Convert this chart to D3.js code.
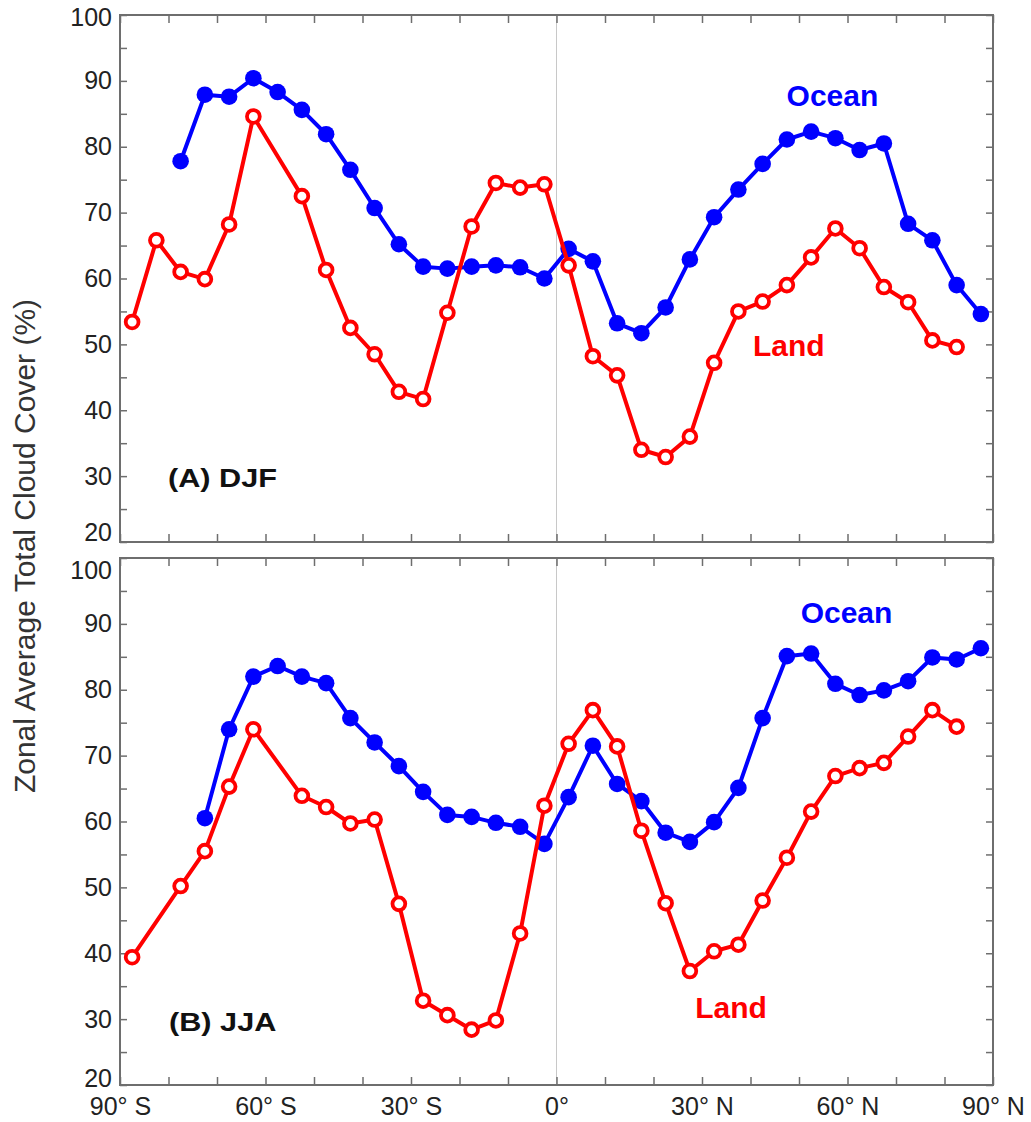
<!DOCTYPE html>
<html>
<head>
<meta charset="utf-8">
<script src="https://cdn.jsdelivr.net/npm/d3@7"></script>
<style>
  body { margin: 0; background: #fff; }
  svg { display: block; font-family: "Liberation Sans", Arial, Helvetica, sans-serif; }
</style>
</head>
<body>
<div id="container"></div>
<script>
// latitude band centres (degrees, negative = south)
const latitudes = [-87.5, -82.5, -77.5, -72.5, -67.5, -62.5, -57.5, -52.5, -47.5, -42.5, -37.5, -32.5,
    -27.5, -22.5, -17.5, -12.5, -7.5, -2.5, 2.5, 7.5, 12.5, 17.5, 22.5, 27.5,
    32.5, 37.5, 42.5, 47.5, 52.5, 57.5, 62.5, 67.5, 72.5, 77.5, 82.5, 87.5];

// (A) DJF
const djfOcean = [null, null, 77.8, 87.9, 87.6, 90.4, 88.3, 85.6, 81.9, 76.5, 70.7, 65.2,
    61.8, 61.5, 61.8, 62.0, 61.7, 60.0, 64.5, 62.6, 53.2, 51.7, 55.6, 62.9,
    69.3, 73.5, 77.4, 81.1, 82.3, 81.3, 79.5, 80.5, 68.3, 65.8, 59.0, 54.6];
const djfLand = [53.4, 65.8, 61.0, 59.9, 68.2, 84.6, null, 72.5, 61.3, 52.5, 48.5, 42.8,
    41.7, 54.8, 67.9, 74.5, 73.8, 74.3, 62.0, 48.2, 45.3, 34.0, 32.9, 36.0,
    47.2, 55.0, 56.5, 59.0, 63.2, 67.6, 64.6, 58.7, 56.4, 50.6, 49.6, null];

// (B) JJA
const jjaOcean = [null, null, null, 60.5, 74.0, 82.0, 83.6, 82.0, 81.0, 75.7, 72.0, 68.4,
    64.5, 61.0, 60.7, 59.8, 59.2, 56.6, 63.7, 71.5, 65.7, 63.1, 58.3, 56.9,
    59.9, 65.1, 75.7, 85.1, 85.5, 80.9, 79.2, 79.9, 81.3, 84.9, 84.6, 86.3];
const jjaLand = [39.4, null, 50.2, 55.5, 65.3, 74.0, null, 63.9, 62.2, 59.7, 60.3, 47.5,
    32.8, 30.6, 28.4, 29.8, 43.0, 62.4, 71.8, 76.9, 71.4, 58.6, 47.6, 37.3,
    40.3, 41.3, 48.0, 54.5, 61.5, 66.9, 68.1, 68.9, 72.9, 76.9, 74.4, null];

// axis ticks and labels
const yTicks = [20, 25, 30, 35, 40, 45, 50, 55, 60, 65, 70, 75, 80, 85, 90, 95, 100];
const yLabels = [20, 30, 40, 50, 60, 70, 80, 90, 100];
const xTicks = [-90, -80, -70, -60, -50, -40, -30, -20, -10, 0, 10, 20, 30, 40, 50, 60, 70, 80, 90];
const xLabelValues = [-90, -60, -30, 0, 30, 60, 90];
const xLabelTexts = ["90° S", "60° S", "30° S", "0°", "30° N", "60° N", "90° N"];

const panels = [
    { ocean: djfOcean, land: djfLand, title: "(A) DJF", top: 15,
      titleAt: [-80.1, 28.4], oceanAt: [56.9, 86.2], landAt: [47.9, 48.2],
      labelShift: { 20: -10, 100: 2 } },
    { ocean: jjaOcean, land: jjaLand, title: "(B) JJA", top: 558,
      titleAt: [-79.9, 28.2], oceanAt: [59.8, 90.1], landAt: [36.0, 30.2],
      labelShift: { 20: -7, 100: 12 }, showX: true }
];

const W = 1031, H = 1122;
const left = 120, width = 873, height = 527;
const axisColor = "#6e6e6e";
const blue = "#0000ff", red = "#ff0000";

const svg = d3.select("#container").append("svg")
    .attr("width", W)
    .attr("height", H);

const x = d3.scaleLinear().domain([-90, 90]).range([0, width]);
const y = d3.scaleLinear().domain([20, 100]).range([height, 0]);

panels.forEach(p => {
    const g = svg.append("g").attr("transform", `translate(${left},${p.top})`);

    // zero latitude line
    g.append("line")
        .attr("x1", x(0)).attr("x2", x(0))
        .attr("y1", 0).attr("y2", height)
        .attr("stroke", "#c8c8c8")
        .attr("stroke-width", 1);

    // axes, ticks point inward
    const yAxis = g.append("g")
        .call(d3.axisLeft(y).tickValues(yTicks).tickSizeInner(-7).tickSizeOuter(0).tickPadding(8)
            .tickFormat(d => yLabels.includes(d) ? d : ""));
    yAxis.selectAll("text")
        .attr("transform", d => `translate(0,${p.labelShift[d] || 0})`);

    g.append("g")
        .attr("transform", `translate(${width},0)`)
        .call(d3.axisRight(y).tickValues(yTicks).tickSizeInner(-7).tickSizeOuter(0).tickFormat(""));

    g.append("g")
        .call(d3.axisTop(x).tickValues(xTicks).tickSizeInner(-8).tickSizeOuter(0).tickFormat(""));

    g.append("g")
        .attr("transform", `translate(0,${height})`)
        .call(d3.axisBottom(x).tickValues(xTicks).tickSizeInner(-8).tickSizeOuter(0).tickPadding(12)
            .tickFormat(d => {
                if (!p.showX) return "";
                const i = xLabelValues.indexOf(d);
                return i >= 0 ? xLabelTexts[i] : "";
            }));

    g.selectAll(".domain").remove();
    g.selectAll(".tick line").attr("stroke", axisColor).attr("stroke-width", 1.5);
    g.selectAll(".tick text")
        .attr("fill", "#222")
        .style("font-size", "25px");

    g.append("rect")
        .attr("width", width)
        .attr("height", height)
        .attr("fill", "none")
        .attr("stroke", axisColor)
        .attr("stroke-width", 2);

    // series: ocean filled, land open
    const series = [
        { values: p.ocean, color: blue, filled: true },
        { values: p.land, color: red, filled: false }
    ];

    series.forEach(s => {
        const pts = latitudes.map((lat, i) => ({ lat: lat, v: s.values[i] }))
            .filter(d => d.v !== null);

        const line = d3.line()
            .x(d => x(d.lat))
            .y(d => y(d.v));

        g.append("path")
            .datum(pts)
            .attr("d", line)
            .attr("fill", "none")
            .attr("stroke", s.color)
            .attr("stroke-width", 4)
            .attr("stroke-linejoin", "round");

        g.selectAll(null)
            .data(pts)
            .enter().append("circle")
            .attr("cx", d => x(d.lat))
            .attr("cy", d => y(d.v))
            .attr("r", s.filled ? 8.3 : 6.4)
            .attr("fill", s.filled ? s.color : "#fff")
            .attr("stroke", s.filled ? "none" : s.color)
            .attr("stroke-width", s.filled ? 0 : 3.8);
    });

    // annotations
    g.append("text")
        .attr("transform", `translate(${x(p.titleAt[0])},${y(p.titleAt[1])}) scale(1.18,1)`)
        .attr("fill", "#111")
        .style("font-size", "26px")
        .style("font-weight", "bold")
        .text(p.title);

    g.append("text")
        .attr("x", x(p.oceanAt[0]))
        .attr("y", y(p.oceanAt[1]))
        .attr("text-anchor", "middle")
        .attr("fill", blue)
        .style("font-size", "30px")
        .style("font-weight", "bold")
        .text("Ocean");

    g.append("text")
        .attr("x", x(p.landAt[0]))
        .attr("y", y(p.landAt[1]))
        .attr("text-anchor", "middle")
        .attr("fill", red)
        .style("font-size", "30px")
        .style("font-weight", "bold")
        .text("Land");
});

svg.append("text")
    .attr("transform", "translate(35,546) rotate(-90)")
    .attr("text-anchor", "middle")
    .attr("fill", "#333")
    .style("font-size", "30px")
    .text("Zonal Average Total Cloud Cover (%)");
</script>
</body>
</html>
